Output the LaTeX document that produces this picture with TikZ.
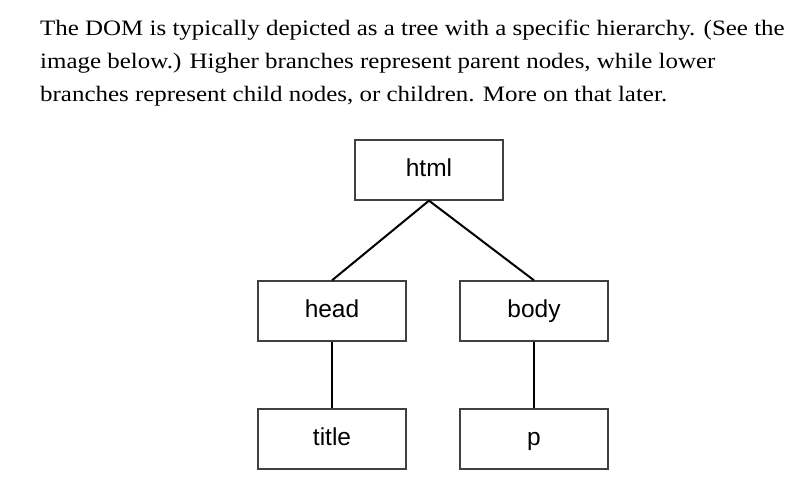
\documentclass[tikz,border=0pt]{standalone}
\usepackage{fontspec}
\setmainfont{Liberation Serif}
\newfontfamily\parafont[FakeStretch=1.134]{Liberation Serif}
\newfontfamily\boxfont{Liberation Sans}
\begin{document}
\begin{tikzpicture}[x=1pt,y=-1pt,
  domnode/.style={draw=black!75,line width=1.3pt,minimum width=148pt,minimum height=60pt,inner sep=0pt,text height=18pt,text depth=5pt,font=\boxfont\fontsize{24.5}{28}\selectfont},
  link/.style={line width=2pt,black},
  para/.style={anchor=base west,inner sep=0pt,font=\parafont\fontsize{22}{26}\selectfont}]
\useasboundingbox (0,0) rectangle (794,489);
\node[para] (l1) at (40,36) {The DOM is typically depicted as a tree with a specific hierarchy. (See the};
\node[para] (l2) at (40,69) {image below.) Higher branches represent parent nodes, while lower};
\node[para] (l3) at (40,102) {branches represent child nodes, or children. More on that later.};
\node[domnode] (html) at (429,170) {html};
\node[domnode] (head) at (332,311) {head};
\node[domnode] (body) at (534,311) {body};
\node[domnode] (title) at (332,439) {title};
\node[domnode] (p) at (534,439) {p};
\draw[link] (html.south) -- (head.north);
\draw[link] (html.south) -- (body.north);
\draw[link] (head.south) -- (title.north);
\draw[link] (body.south) -- (p.north);
\end{tikzpicture}
\end{document}
